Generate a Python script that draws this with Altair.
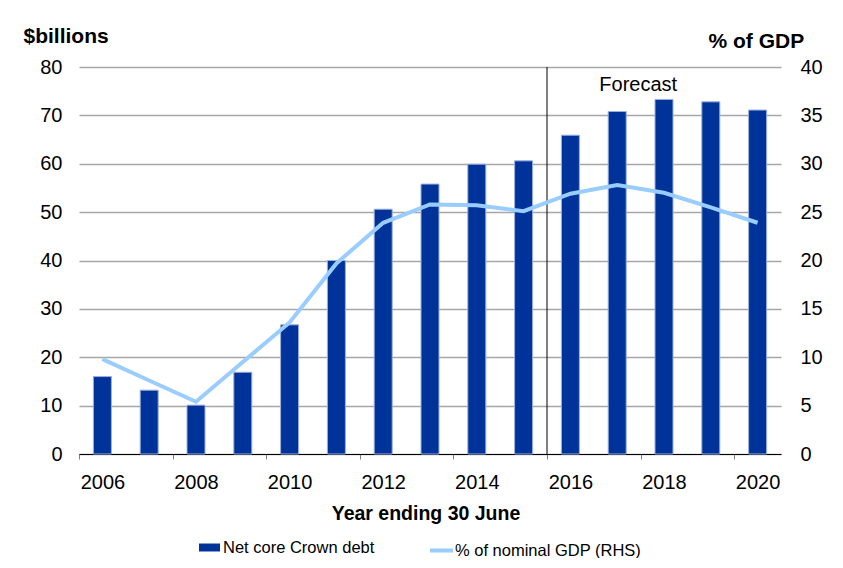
import altair as alt
import pandas as pd

# ---- data ----
years = list(range(2006, 2021))
net_debt = [16.0, 13.2, 10.1, 16.9, 26.7, 40.0, 50.6, 55.8, 59.9, 60.6, 65.9, 70.8, 73.3, 72.8, 71.1]
pct_gdp = [9.8, 7.6, 5.4, 9.5, 13.6, 19.7, 23.9, 25.8, 25.7, 25.1, 26.9, 27.8, 27.0, 25.5, 23.9]
bar_label = "Net core Crown debt"
line_label = "% of nominal GDP (RHS)"
left_ticks = [0, 10, 20, 30, 40, 50, 60, 70, 80]
right_ticks = [0, 5, 10, 15, 20, 25, 30, 35, 40]
x_tick_positions = [2005.5, 2007.5, 2009.5, 2011.5, 2013.5, 2015.5, 2017.5, 2019.5]
x_domain = [2005.5, 2020.5]
forecast_start = 2015.5
forecast_text = "Forecast"
forecast_x = 2017.45
forecast_y = 75

FONT = "Liberation Sans"
W, H = 702, 387
BAR_BLUE = "#003399"
LINE_BLUE = "#99CCFF"

df = pd.DataFrame({"year": years, "debt": net_debt, "pct": pct_gdp,
                   "s1": bar_label, "s2": line_label})
one = pd.DataFrame({"k": [0]})

x_scale = alt.Scale(domain=x_domain, nice=False, zero=False, padding=0)
x_axis = alt.Axis(
    values=x_tick_positions, labelExpr="toString(datum.value + 0.5)",
    labelOffset=23.4, labelAlign="center", labelFlush=False, labelOverlap=False,
    labelBound=False, labelFont=FONT, labelFontSize=20, labelColor="black",
    labelPadding=13, domainColor="black", domainWidth=1, tickColor="#808080",
    tickSize=5, tickWidth=1, grid=False, title="Year ending 30 June",
    titleFont=FONT, titleFontSize=19.5, titleFontWeight="bold", titleColor="black",
    titleX=346.5, titleY=65, titleBaseline="alphabetic", titleAlign="center",
)
x_enc = alt.X("year:Q", scale=x_scale, axis=x_axis)

bars = alt.Chart(df).mark_bar(size=18, stroke="#9AAEE0", strokeWidth=1).encode(
    x=x_enc,
    y=alt.Y("debt:Q", scale=alt.Scale(domain=[0, 80], nice=False),
            axis=alt.Axis(values=left_ticks, domain=False, ticks=False, tickSize=0,
                          grid=True, gridColor="#A6A6A6", gridWidth=1.3,
                          labelFont=FONT, labelFontSize=20, labelColor="black",
                          labelPadding=17, title="$billions", titleAngle=0,
                          titleAlign="left", titleBaseline="alphabetic",
                          titleX=-56, titleY=-25, titleFont=FONT, titleFontSize=21,
                          titleFontWeight="bold", titleColor="black")),
    color=alt.Color("s1:N", scale=alt.Scale(domain=[bar_label], range=[BAR_BLUE]),
                    legend=alt.Legend(orient="none", legendX=120, legendY=470, title=None,
                                      symbolType="M-1,-0.38H1V0.38H-1Z", symbolSize=441,
                                      symbolStrokeWidth=0, labelFont=FONT,
                                      labelFontSize=16.5, labelColor="black",
                                      labelOffset=3, labelLimit=400)),
)

rule = alt.Chart(one).mark_rule(color="black", strokeWidth=1).encode(
    x=alt.datum(forecast_start), y=alt.datum(0), y2=alt.datum(80))

ftext = alt.Chart(one).mark_text(text=forecast_text, font=FONT, fontSize=20,
                                 align="center", baseline="alphabetic",
                                 color="black").encode(
    x=alt.datum(forecast_x), y=alt.datum(forecast_y))

left = alt.layer(bars, rule, ftext)

line = alt.Chart(df).mark_line(strokeWidth=4).encode(
    x=x_enc,
    y=alt.Y("pct:Q", scale=alt.Scale(domain=[0, 40], nice=False),
            axis=alt.Axis(orient="right", values=right_ticks, domain=False, ticks=False,
                          tickSize=0, grid=False, labelFont=FONT, labelFontSize=20,
                          labelColor="black", labelPadding=19, labelAlign="left",
                          title="% of GDP", titleAngle=0, titleAlign="left",
                          titleBaseline="alphabetic", titleX=-73, titleY=-20,
                          titleFont=FONT, titleFontSize=21, titleFontWeight="bold",
                          titleColor="black")),
    color=alt.Color("s2:N", scale=alt.Scale(domain=[line_label], range=[LINE_BLUE]),
                    legend=alt.Legend(orient="none", legendX=349, legendY=470, title=None,
                                      symbolType="stroke", symbolSize=529,
                                      symbolStrokeWidth=4, labelFont=FONT,
                                      labelFontSize=16.5, labelColor="black",
                                      labelOffset=0, labelLimit=400)),
)

chart = alt.layer(left, line).resolve_scale(y="independent", color="independent").properties(
    width=W, height=H,
    padding={"left": 71, "top": 59, "right": 52, "bottom": 104},
    autosize=alt.AutoSizeParams(type="none"),
    background="white",
).configure_view(stroke=None)

chart.save("out.html", embed_options={"renderer": "svg", "actions": False})
